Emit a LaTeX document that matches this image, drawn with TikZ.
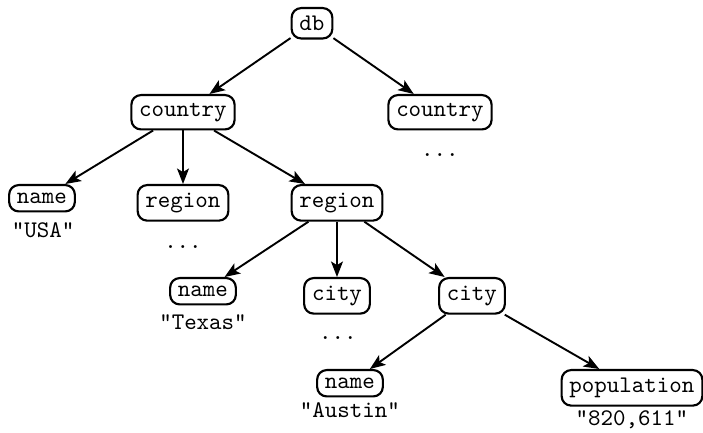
\documentclass[tikz,border=0pt]{standalone}
\usetikzlibrary{arrows.meta}
\begin{document}
\begin{tikzpicture}[x=0.42pt,y=-0.42pt,
  box/.style={draw, line width=0.9pt, rounded corners=4pt, font=\ttfamily, anchor=north, inner sep=3.3pt},
  lbl/.style={font=\ttfamily, inner sep=0pt},
  edge/.style={line width=0.8pt, -{Stealth[length=6.5pt,width=5pt,inset=1.5pt]}}]
\useasboundingbox (0,0) rectangle (703,433);
\node[box] (db) at (312,7) {db};
\node[box] (c1) at (183,94) {country};
\node[box] (c2) at (440,94) {country};
\node[lbl] (d0) at (440,155) {...};
\node[box] (n1) at (42,184) {name};
\node[lbl] (v1) at (43,230) {"USA"};
\node[box] (r1) at (183,184) {region};
\node[lbl] (d1) at (183,247) {...};
\node[box] (r2) at (337,184) {region};
\node[box] (n2) at (203,277) {name};
\node[lbl] (v2) at (203,322) {"Texas"};
\node[box] (t1) at (337,277) {city};
\node[lbl] (d2) at (338,338) {...};
\node[box] (t2) at (472,277) {city};
\node[box] (n3) at (350,369) {name};
\node[lbl] (v3) at (350,410) {"Austin"};
\node[box] (p) at (632,369) {population};
\node[lbl] (v4) at (632,420) {"820,611"};
\draw[edge] (db) -- (c1);
\draw[edge] (db) -- (c2);
\draw[edge] (c1) -- (n1);
\draw[edge] (c1) -- (r1);
\draw[edge] (c1) -- (r2);
\draw[edge] (r2) -- (n2);
\draw[edge] (r2) -- (t1);
\draw[edge] (r2) -- (t2);
\draw[edge] (t2) -- (n3);
\draw[edge] (t2) -- (p);
\end{tikzpicture}
\end{document}
